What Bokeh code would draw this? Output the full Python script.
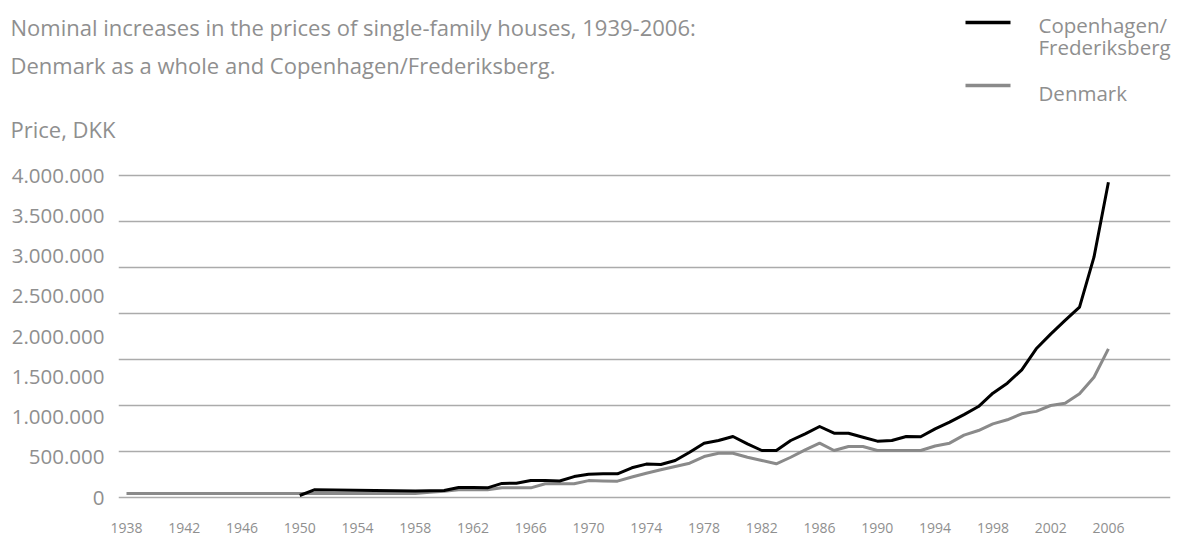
from bokeh.plotting import figure
from bokeh.models import Range1d, FixedTicker, Column
from bokeh.core.properties import value
from bokeh.embed import file_html
from bokeh.resources import INLINE

# ---- data (DKK) ----
cph_years = [1950, 1951, 1958, 1959, 1960, 1961, 1962, 1963, 1964, 1965, 1966, 1967, 1968, 1969,
             1970, 1971, 1972, 1973, 1974, 1975, 1976, 1977, 1978, 1979,
             1980, 1981, 1982, 1983, 1984, 1985, 1986, 1987, 1988, 1989,
             1990, 1991, 1992, 1993, 1994, 1995, 1996, 1997, 1998, 1999,
             2000, 2001, 2002, 2003, 2004, 2005, 2006]
cph_price = [25000, 95000, 80000, 83000, 87000, 125000, 125000, 120000, 175000, 178000, 210000, 210000, 205000, 260000,
             290000, 295000, 294000, 369000, 415000, 410000, 460000, 563000, 675000, 708000,
             758000, 667000, 584000, 584000, 708000, 791000, 882000, 799000, 799000, 749000,
             700000, 708000, 758000, 755000, 853000, 936000, 1030000, 1130000, 1296000, 1420000,
             1586000, 1847000, 2030000, 2200000, 2364000, 2985000, 3917000]

dk_years = [1938, 1958, 1959, 1960, 1961, 1962, 1963, 1964, 1965, 1966, 1967, 1968, 1969,
            1970, 1971, 1972, 1973, 1974, 1975, 1976, 1977, 1978, 1979,
            1980, 1981, 1982, 1983, 1984, 1985, 1986, 1987, 1988, 1989,
            1990, 1991, 1992, 1993, 1994, 1995, 1996, 1997, 1998, 1999,
            2000, 2001, 2002, 2003, 2004, 2005, 2006]
dk_price = [50000, 50000, 65000, 78000, 95000, 95000, 95000, 120000, 120000, 120000, 170000, 170000, 170000,
            210000, 205000, 203000, 255000, 302000, 344000, 385000, 426000, 509000, 550000,
            550000, 500000, 460000, 419000, 500000, 592000, 675000, 584000, 634000, 634000,
            584000, 584000, 584000, 584000, 640000, 675000, 775000, 832000, 915000, 965000,
            1040000, 1070000, 1143000, 1170000, 1288000, 1494000, 1847000]

x_ticks = [1938, 1942, 1946, 1950, 1954, 1958, 1962, 1966, 1970, 1974, 1978, 1982, 1986, 1990, 1994, 1998, 2002, 2006]
y_ticks = [0, 500000, 1000000, 1500000, 2000000, 2500000, 3000000, 3500000, 4000000]
y_tick_labels = ["0", "500.000", "1.000.000", "1.500.000", "2.000.000", "2.500.000", "3.000.000", "3.500.000", "4.000.000"]

title_lines = ["Nominal increases in the prices of single-family houses, 1939-2006:",
               "Denmark as a whole and Copenhagen/Frederiksberg."]
y_title = "Price, DKK"
legend_labels = [["Copenhagen/", "Frederiksberg"], ["Denmark"]]

FONT = "Open Sans"
TXT = "#8f8f8f"
GRID = "#ababab"
CPH_COLOR = "black"
DK_COLOR = "#8a8a8a"

W = 1189
HEAD_H = 150
MAIN_H = 535 - HEAD_H

# ---- header: titles and legend (pixel coordinates of the header canvas) ----
head = figure(width=W, height=HEAD_H, frame_width=W, frame_height=HEAD_H,
              x_range=Range1d(0, W), y_range=Range1d(HEAD_H, 0),
              x_axis_location=None, y_axis_location=None,
              min_border=0, min_border_left=0, min_border_right=0, min_border_top=0, min_border_bottom=0,
              output_backend="svg", toolbar_location=None)
head.outline_line_color = None
head.xgrid.visible = False
head.ygrid.visible = False

head.text(x=[10, 10, 10], y=[26, 64, 128], text=title_lines + [y_title],
          text_font=value(FONT), text_font_size="22px", text_color=TXT,
          text_baseline="alphabetic", text_align="left")

# legend keys
head.segment(x0=[965], y0=[22], x1=[1010], y1=[22], line_color=CPH_COLOR, line_width=3.5)
head.segment(x0=[965], y0=[85], x1=[1010], y1=[85], line_color=DK_COLOR, line_width=3.5)
head.text(x=[1038, 1038, 1038], y=[24.5, 46.5, 92.5],
          text=legend_labels[0] + legend_labels[1],
          text_font=value(FONT), text_font_size="20.5px", text_color=TXT,
          text_baseline="alphabetic", text_align="left")

# ---- main chart ----
p = figure(width=W, height=MAIN_H, frame_width=1052, frame_height=350,
           min_border_left=118, min_border_right=19, min_border_top=10, min_border_bottom=25,
           x_range=Range1d(1937.446, 2010.3), y_range=Range1d(-161490, 4186340),
           output_backend="svg", toolbar_location=None)
p.outline_line_color = None
p.background_fill_color = "white"
p.border_fill_color = "white"

p.xgrid.visible = False
p.ygrid.ticker = FixedTicker(ticks=[4000000 * i / 7 for i in range(8)])
p.ygrid.grid_line_color = GRID
p.ygrid.grid_line_width = 1.6

p.xaxis.ticker = FixedTicker(ticks=x_ticks)
p.xaxis.axis_line_color = None
p.xaxis.major_tick_line_color = None
p.xaxis.minor_tick_line_color = None
p.xaxis.major_label_text_font = FONT
p.xaxis.major_label_text_font_size = "14px"
p.xaxis.major_label_text_color = TXT
p.xaxis.major_label_standoff = 6

p.yaxis.ticker = FixedTicker(ticks=y_ticks)
p.yaxis.major_label_overrides = {t: s for t, s in zip(y_ticks, y_tick_labels)}
p.yaxis.axis_line_color = None
p.yaxis.major_tick_line_color = None
p.yaxis.minor_tick_line_color = None
p.yaxis.major_label_text_font = FONT
p.yaxis.major_label_text_font_size = "20.5px"
p.yaxis.major_label_text_color = TXT
p.yaxis.major_label_standoff = 8

p.line(dk_years, dk_price, line_color=DK_COLOR, line_width=3, line_join="round")
p.line(cph_years, cph_price, line_color=CPH_COLOR, line_width=3, line_join="round")

layout = Column(children=[Column(children=[head]), p], spacing=0)
open("out.html", "w").write(file_html(layout, INLINE))
